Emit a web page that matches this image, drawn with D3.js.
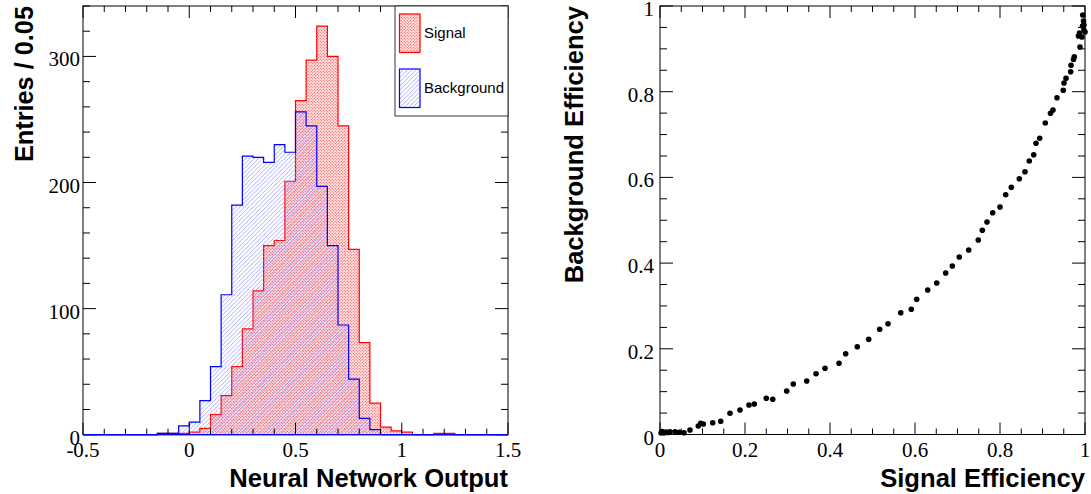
<!DOCTYPE html>
<html><head><meta charset="utf-8">
<script src="https://cdn.jsdelivr.net/npm/d3@7"></script>
<style>body{margin:0;background:#fff;} svg{display:block;}</style>
</head><body>
<svg id="c" width="1091" height="494"></svg>
<script>
// ---------- DATA ----------
const binLow = -0.5, binHigh = 1.5, binWidth = 0.05;
const signalCounts = [0,0,0,0,0,0,0,1,1,1, 2,5,16,31,54,84,114,150,154,201, 265,297,324,300,245,147,73,25,6,3, 2,0,0,1,1,0,0,0,0,0];
const backgroundCounts = [0,0,0,0,0,0,0,1,1,7, 10,27,54,111,182,221,220,216,230,224, 256,245,197,150,87,44,13,4,0,0, 0,0,0,0,0,0,0,0,0,0];
const histXTickValues = [-0.5,0,0.5,1,1.5];
const histXTickLabels = ["-0.5","0","0.5","1","1.5"];
const histYTickValues = [0,100,200,300];
const histYTickLabels = ["0","100","200","300"];
const legendLabels = ["Signal","Background"];
const histXTitle = "Neural Network Output", histYTitle = "Entries / 0.05";

const rocSignalEff = [0.0024,0.0047,0.0094,0.0141,0.0188,0.0235,0.0353,0.0454,0.0565,0.0706,0.0901,0.0958,0.1019,0.1240,0.1428,0.1647,0.1882,0.2094,0.2219,0.2501,0.2652,0.2981,0.3136,0.3452,0.3671,0.3882,0.4212,0.4369,0.4642,0.4911,0.5169,0.5365,0.5664,0.5913,0.6040,0.6299,0.6511,0.6722,0.6878,0.7042,0.7264,0.7489,0.7584,0.7694,0.7828,0.8000,0.8134,0.8266,0.8454,0.8588,0.8689,0.8793,0.8847,0.8934,0.9066,0.9188,0.9247,0.9341,0.9489,0.9506,0.9553,0.9664,0.9671,0.9729,0.9748,0.9882,0.9847,0.9871,0.9929,0.9976,0.9941,0.9965,0.9946,1.0,0.9976];
const rocBackgroundEff = [0.0035,0.0070,0.0035,0.0058,0.0047,0.0065,0.0065,0.0051,0.0042,0.0105,0.0198,0.0261,0.0245,0.0275,0.0308,0.0495,0.0572,0.0688,0.0712,0.0845,0.0821,0.1015,0.1179,0.1249,0.1419,0.1545,0.1662,0.1886,0.2049,0.2222,0.2455,0.2586,0.2842,0.2922,0.3155,0.3372,0.3536,0.3769,0.3932,0.4142,0.4306,0.4539,0.4765,0.4959,0.5176,0.5309,0.5596,0.5769,0.5970,0.6133,0.6383,0.6530,0.6796,0.6913,0.7270,0.7496,0.7573,0.7860,0.8033,0.8203,0.8313,0.8467,0.8618,0.8751,0.8817,0.9043,0.9300,0.9370,0.9276,0.9440,0.9533,0.9650,0.9790,0.9393,0.9557];
const rocTickValues = [0,0.2,0.4,0.6,0.8,1];
const rocTickLabels = ["0","0.2","0.4","0.6","0.8","1"];
const rocXTitle = "Signal Efficiency", rocYTitle = "Background Efficiency";

// ---------- DRAW ----------
const svg = d3.select("#c");
const defs = svg.append("defs");
const dots = defs.append("pattern").attr("id","dots").attr("patternUnits","userSpaceOnUse").attr("width",3).attr("height",3);
dots.append("rect").attr("width",3).attr("height",3).attr("fill","#ffe6e6");
dots.append("circle").attr("cx",0.75).attr("cy",0.75).attr("r",0.62).attr("fill","#ff3030");
dots.append("circle").attr("cx",2.25).attr("cy",2.25).attr("r",0.62).attr("fill","#ff3030");
const hatch = defs.append("pattern").attr("id","hatch").attr("patternUnits","userSpaceOnUse").attr("width",4.3).attr("height",4.3);
hatch.append("path").attr("d","M-1,1 L1,-1 M0,4.3 L4.3,0 M3.3,5.3 L5.3,3.3").attr("stroke","#8c8cff").attr("stroke-width",0.7).attr("fill","none");

const serif = "'Liberation Serif','Times New Roman',serif";
const sans = "'Liberation Sans',Arial,sans-serif";

function frameAxes(g, x, y, xMajor, xMinorStep, yMajor, yMinorStep, xLabels, yLabels, labelGap){
  const [x0,x1] = x.range(), [y0,y1] = y.range();
  const ax = g.append("g").attr("stroke","#000").attr("stroke-width",1);
  const xd = x.domain(), yd = y.domain();
  const xMinor = d3.range(xd[0], xd[1]+1e-9, xMinorStep);
  const yMinor = d3.range(yd[0], yd[1]+1e-9, yMinorStep);
  const isMaj = (arr,v)=>arr.some(m=>Math.abs(m-v)<1e-6);
  xMinor.forEach(v=>{
    const L = isMaj(xMajor,v)?12:6, px = x(v);
    ax.append("line").attr("x1",px).attr("x2",px).attr("y1",y0).attr("y2",y0-L);
    ax.append("line").attr("x1",px).attr("x2",px).attr("y1",y1).attr("y2",y1+L);
  });
  yMinor.forEach(v=>{
    const L = isMaj(yMajor,v)?13:7, py = y(v);
    ax.append("line").attr("x1",x0).attr("x2",x0+L).attr("y1",py).attr("y2",py);
    ax.append("line").attr("x1",x1).attr("x2",x1-L).attr("y1",py).attr("y2",py);
  });
  g.append("rect").attr("x",x0).attr("y",y1).attr("width",x1-x0).attr("height",y0-y1)
    .attr("fill","none").attr("stroke","#000").attr("stroke-width",1);
  const lab = g.append("g").attr("font-family",serif).attr("font-size",21).attr("fill","#000");
  xMajor.forEach((v,i)=>lab.append("text").attr("x",x(v)).attr("y",y0+22).attr("text-anchor","middle").text(xLabels[i]));
  yMajor.forEach((v,i)=>lab.append("text").attr("x",x0-labelGap).attr("y",y(v)+10).attr("text-anchor","end").text(yLabels[i]));
}

// Left: histogram
const xL = d3.scaleLinear().domain([binLow,binHigh]).range([83,508]);
const yL = d3.scaleLinear().domain([0,340]).range([434.7,6]);
const gL = svg.append("g");
function histPoints(counts){
  const pts=[[binLow,0]];
  counts.forEach((c,i)=>{const a=binLow+i*binWidth; pts.push([a,c],[a+binWidth,c]);});
  pts.push([binHigh,0]);
  return pts;
}
const line = d3.line().x(d=>xL(d[0])).y(d=>yL(d[1]));
const sigPts = histPoints(signalCounts), bkgPts = histPoints(backgroundCounts);
gL.append("path").attr("d",line(sigPts)+"Z").attr("fill","url(#dots)").attr("stroke","none");
gL.append("path").attr("d",line(sigPts)).attr("fill","none").attr("stroke","#ff0000").attr("stroke-width",1.2);
gL.append("path").attr("d",line(bkgPts)+"Z").attr("fill","url(#hatch)").attr("stroke","none");
gL.append("path").attr("d",line(bkgPts)).attr("fill","none").attr("stroke","#0000ff").attr("stroke-width",1.2);
frameAxes(gL, xL, yL, histXTickValues, 0.1, histYTickValues, 20, histXTickLabels, histYTickLabels, 3);
gL.append("line").attr("x1",xL(binLow)).attr("x2",xL(binHigh)).attr("y1",yL(0)).attr("y2",yL(0)).attr("stroke","#0000ff").attr("stroke-width",1.2);

// legend
const leg = gL.append("g");
leg.append("rect").attr("x",395).attr("y",6).attr("width",113).attr("height",110).attr("fill","#fff").attr("stroke","#333").attr("stroke-width",1);
const legFills = ["url(#dots)","url(#hatch)"], legStrokes=["#ff0000","#0000ff"], legY=[14,69];
legendLabels.forEach((t,i)=>{
  leg.append("rect").attr("x",399.5).attr("y",legY[i]).attr("width",20.5).attr("height",38.5)
    .attr("fill",legFills[i]).attr("stroke",legStrokes[i]).attr("stroke-width",1.2);
  leg.append("text").attr("x",424).attr("y",legY[i]+24).attr("font-family",sans).attr("font-size",15).text(t);
});
gL.append("text").attr("x",508).attr("y",487).attr("text-anchor","end").attr("font-family",sans).attr("font-weight","bold").attr("font-size",25.6).text(histXTitle);
gL.append("text").attr("transform","translate(33,6) rotate(-90)").attr("text-anchor","end").attr("font-family",sans).attr("font-weight","bold").attr("font-size",25.3).text(histYTitle);

// Right: ROC
const xR = d3.scaleLinear().domain([0,1]).range([660,1085]);
const yR = d3.scaleLinear().domain([0,1]).range([434.5,6]);
const gR = svg.append("g");
frameAxes(gR, xR, yR, rocTickValues, 0.05, rocTickValues, 0.05, rocTickLabels, rocTickLabels, 6);
gR.append("g").selectAll("circle").data(rocSignalEff.map((s,i)=>[s,rocBackgroundEff[i]])).join("circle")
  .attr("cx",d=>xR(d[0])).attr("cy",d=>yR(d[1])).attr("r",2.8).attr("fill","#000");
gR.append("text").attr("x",1085).attr("y",487).attr("text-anchor","end").attr("font-family",sans).attr("font-weight","bold").attr("font-size",25.6).text(rocXTitle);
gR.append("text").attr("transform","translate(583,6) rotate(-90)").attr("text-anchor","end").attr("font-family",sans).attr("font-weight","bold").attr("font-size",25.6).text(rocYTitle);
</script>
</body></html>
